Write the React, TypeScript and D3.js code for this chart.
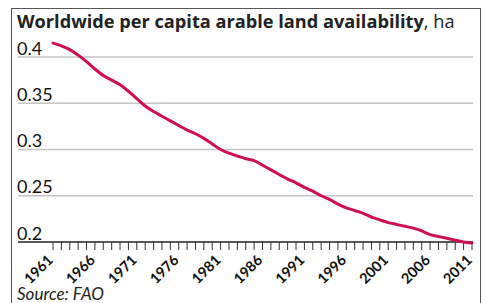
import React, { useEffect, useRef } from 'react';
import * as d3 from 'd3';

const years: number[] = d3.range(1961, 2012);
const landPerCapita: number[] = [
  0.415, 0.412, 0.408, 0.402, 0.395, 0.387, 0.380, 0.375, 0.370, 0.363,
  0.355, 0.347, 0.341, 0.336, 0.331, 0.326, 0.321, 0.317, 0.312, 0.306,
  0.300, 0.296, 0.293, 0.290, 0.288, 0.283, 0.278, 0.273, 0.268, 0.264,
  0.259, 0.255, 0.250, 0.246, 0.241, 0.237, 0.234, 0.231, 0.227, 0.224,
  0.221, 0.219, 0.217, 0.215, 0.212, 0.208, 0.206, 0.204, 0.202, 0.200,
  0.199,
];
const yTicks: number[] = [0.2, 0.25, 0.3, 0.35, 0.4];
const yearLabels: number[] = [1961, 1966, 1971, 1976, 1981, 1986, 1991, 1996, 2001, 2006, 2011];

const W = 486;
const H = 303;
const FONT = 'Lato, "Open Sans", sans-serif';
const TITLE_FONT = '"Open Sans", Lato, sans-serif';

const App: React.FC = () => {
  const svgRef = useRef<SVGSVGElement | null>(null);

  useEffect(() => {
    if (!svgRef.current) return;
    const svg = d3.select(svgRef.current);
    svg.selectAll('*').remove();

    // frame
    svg.append('rect')
      .attr('x', 11.5)
      .attr('y', 8.5)
      .attr('width', 469)
      .attr('height', 310)
      .attr('fill', '#fff')
      .attr('stroke', '#555')
      .attr('stroke-width', 1);

    const x = d3.scaleLinear().domain([1961, 2011]).range([53, 472]);
    const y = d3.scaleLinear().domain([0.2, 0.4]).range([242, 57]);

    // title
    const title = svg.append('text')
      .attr('x', 17)
      .attr('y', 28)
      .attr('font-family', TITLE_FONT)
      .attr('font-size', 18.2)
      .attr('fill', '#222');
    title.append('tspan').attr('font-weight', 'bold').text('Worldwide per capita arable land availability');
    title.append('tspan').text(', ha');

    // gridlines and y labels
    svg.append('g')
      .selectAll('line')
      .data(yTicks.filter(d => d !== 0.2))
      .enter()
      .append('line')
      .attr('x1', 18)
      .attr('x2', 473)
      .attr('y1', d => y(d))
      .attr('y2', d => y(d))
      .attr('stroke', '#c4c4c4')
      .attr('stroke-width', 1.5);

    svg.append('g')
      .selectAll('text')
      .data(yTicks)
      .enter()
      .append('text')
      .attr('x', 17)
      .attr('y', d => y(d) - 2.5)
      .attr('font-family', FONT)
      .attr('font-size', 18)
      .attr('fill', '#111')
      .text(d => String(d));

    // x axis
    const xAxis = svg.append('g').attr('transform', `translate(0,${y(0.2)})`);
    xAxis.append('line')
      .attr('x1', 18)
      .attr('x2', 473)
      .attr('stroke', '#222')
      .attr('stroke-width', 1.3);
    xAxis.selectAll('line.tick')
      .data(years)
      .enter()
      .append('line')
      .attr('class', 'tick')
      .attr('x1', d => x(d))
      .attr('x2', d => x(d))
      .attr('y1', 0)
      .attr('y2', 8)
      .attr('stroke', '#333')
      .attr('stroke-width', 1);
    xAxis.selectAll('text')
      .data(yearLabels)
      .enter()
      .append('text')
      .attr('transform', d => `translate(${x(d) + 1},${19}) rotate(-45)`)
      .attr('text-anchor', 'end')
      .attr('font-family', FONT)
      .attr('font-size', 14.5)
      .attr('font-weight', 'bold')
      .attr('fill', '#111')
      .text(d => String(d));

    // line
    const line = d3.line<number>()
      .x((_, i) => x(years[i]))
      .y(d => y(d))
      .curve(d3.curveMonotoneX);
    svg.append('path')
      .datum(landPerCapita)
      .attr('d', line)
      .attr('fill', 'none')
      .attr('stroke', '#d0104c')
      .attr('stroke-width', 3)
      .attr('stroke-linecap', 'round');

    // source
    svg.append('text')
      .attr('x', 17)
      .attr('y', 300)
      .attr('font-family', FONT)
      .attr('font-size', 17)
      .attr('font-style', 'italic')
      .attr('fill', '#222')
      .text('Source: FAO');
  }, []);

  return (
    <svg
      ref={svgRef}
      width={W}
      height={H}
      style={{ position: 'absolute', left: 0, top: 0, background: '#fff' }}
    />
  );
};

export default App;
